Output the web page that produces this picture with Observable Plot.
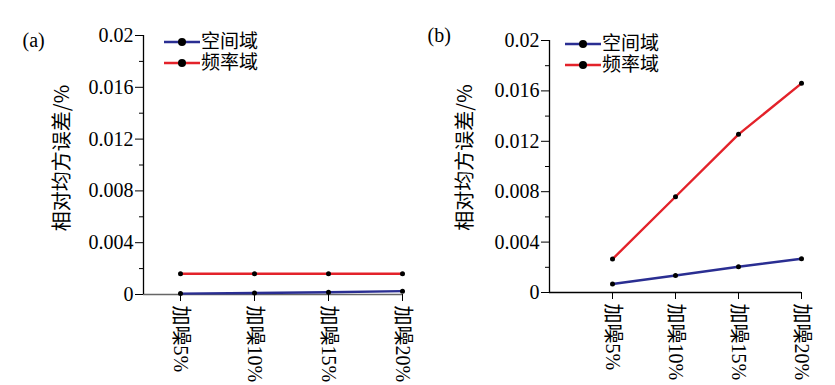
<!DOCTYPE html>
<html><head><meta charset="utf-8">
<script src="https://cdn.jsdelivr.net/npm/d3@7"></script>
<script src="https://cdn.jsdelivr.net/npm/@observablehq/plot@0.6"></script>
<style>
body{margin:0;background:#fff;}
#wrap{position:relative;width:835px;height:385px;display:flex;}
#wrap svg text{font-family:"Liberation Serif","Noto Sans CJK SC",serif !important;font-variant:normal !important;}
#wrap svg text.cjk{font-family:"Noto Sans CJK SC",sans-serif !important;}
.leg{position:absolute;font-family:"Liberation Serif","Noto Sans CJK SC",serif;font-size:19px;color:#000;}
.leg div{display:flex;align-items:center;height:21px;}
.leg span{display:block;line-height:20px;height:20px;}
.leg svg{margin-right:1px;display:block;}
</style>
</head><body>
<div id="wrap"></div>
<script>
const categories = ["加噪5%", "加噪10%", "加噪15%", "加噪20%"];
const seriesNames = ["空间域", "频率域"];
const seriesColors = ["#2a2e92", "#e3222a"];
const spatialA = [0.00007, 0.00012, 0.00017, 0.00026];
const freqA = [0.0016, 0.0016, 0.0016, 0.0016];
const spatialB = [0.00067, 0.00135, 0.00204, 0.00268];
const freqB = [0.00265, 0.0076, 0.01255, 0.0166];
const yTicks = [0, 0.004, 0.008, 0.012, 0.016, 0.02];
const yMinorTicks = [0.002, 0.006, 0.01, 0.014, 0.018];
const yLabel = "相对均方误差/%";
const panelLabels = ["(a)", "(b)"];

const serif = "'Liberation Serif', 'Noto Sans CJK SC', serif";

function rows(sp, fr) {
  const out = [];
  categories.forEach((c, i) => {
    out.push({s: seriesNames[0], i: i + 1, v: sp[i]});
    out.push({s: seriesNames[1], i: i + 1, v: fr[i]});
  });
  return out;
}

function panel(opts) {
  const data = rows(opts.sp, opts.fr);
  const [x0] = opts.xDomain;
  return Plot.plot({
    width: opts.width, height: 385,
    marginLeft: opts.ml, marginRight: opts.mr, marginTop: opts.mt, marginBottom: opts.mb,
    style: {fontFamily: serif, fontSize: "18px", color: "#000", background: "#fff", overflow: "visible"},
    x: {domain: opts.xDomain, axis: null},
    y: {domain: [0, 0.02], axis: null},
    color: {domain: seriesNames, range: seriesColors},
    marks: [
      Plot.ruleY([0], {stroke: opts.xAxisColor, strokeWidth: 1.3}),
      Plot.ruleX([x0], {stroke: "#000", strokeWidth: 1.3}),
      Plot.axisY({ticks: yTicks, label: null, tickSize: 8, tickPadding: 2, tickFormat: d => d === 0 ? "0" : String(d), fontSize: 20}),
      Plot.axisY({ticks: yMinorTicks, label: null, tickSize: 4, text: null}),
      Plot.axisX({ticks: [1, 2, 3, 4], label: null, tickSize: 7, tickPadding: 4, tickRotate: 90, textAnchor: "start", tickFormat: d => categories[d - 1], fontSize: 20}),
      Plot.line(data, {x: "i", y: "v", z: "s", stroke: "s", strokeWidth: 2.4}),
      Plot.dot(data, {x: "i", y: "v", r: 2.5, fill: "#000"}),
      Plot.text([yLabel], {frameAnchor: "left", textAnchor: "middle", lineAnchor: "middle", rotate: -90, dx: opts.labelDx, dy: opts.labelDy, fontSize: 20}),
      Plot.text([opts.tag], {frameAnchor: "top-left", lineAnchor: "middle", dx: opts.tagDx, dy: opts.tagDy, fontSize: 20, textAnchor: "start"})
    ]
  });
}

const wrap = document.getElementById("wrap");
wrap.appendChild(panel({
  sp: spatialA, fr: freqA, width: 418, ml: 143, mr: 16, mt: 35, mb: 91,
  xDomain: [0.5, 4], xAxisColor: "#666", labelDx: -81, labelDy: -7,
  tag: panelLabels[0], tagDx: -121, tagDy: 5
}));
wrap.appendChild(panel({
  sp: spatialB, fr: freqB, width: 417, ml: 131, mr: 34, mt: 40, mb: 93,
  xDomain: [0, 4], xAxisColor: "#000", labelDx: -84, labelDy: -9,
  tag: panelLabels[1], tagDx: -122, tagDy: -5
}));
wrap.querySelectorAll("svg text").forEach(t => { if (t.textContent === yLabel) t.classList.add("cjk"); });

function legend(left, top) {
  const d = document.createElement("div");
  d.className = "leg";
  d.style.left = left + "px";
  d.style.top = top + "px";
  seriesNames.forEach((n, k) => {
    const r = document.createElement("div");
    r.innerHTML = `<svg width="36" height="21"><line x1="0" x2="36" y1="11" y2="11" stroke="${seriesColors[k]}" stroke-width="2.6"/><circle cx="18" cy="11" r="4" fill="#000"/></svg><span>${n}</span>`;
    d.appendChild(r);
  });
  wrap.appendChild(d);
}
legend(164, 31);
legend(565, 33);
</script>
</body></html>
